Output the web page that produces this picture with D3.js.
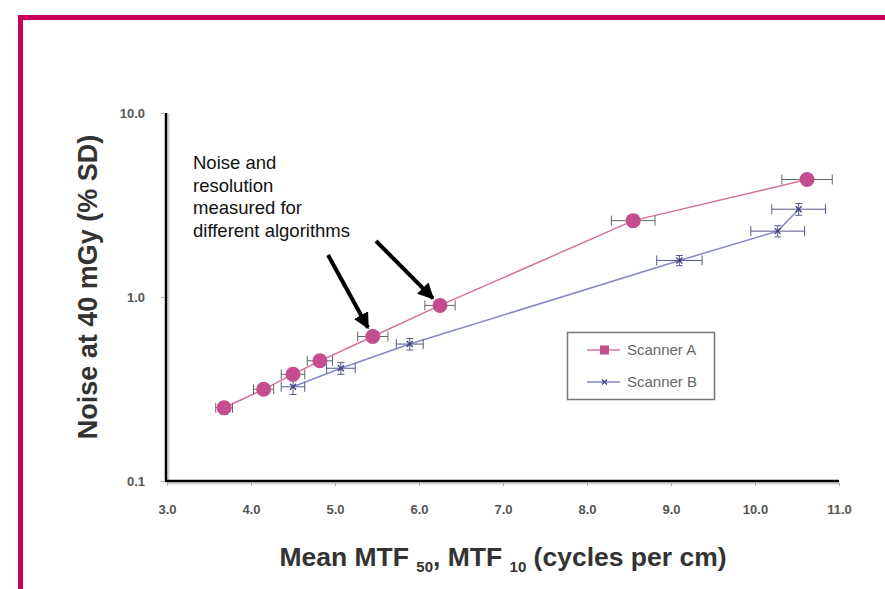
<!DOCTYPE html>
<html>
<head>
<meta charset="utf-8">
<script src="https://cdn.jsdelivr.net/npm/d3@7"></script>
<style>
  body { margin: 0; background: #fff; }
  svg { display: block; font-family: "Liberation Sans", Arial, sans-serif; }
</style>
</head>
<body>
<div id="chart"></div>
<script>
// data
var xTicks = [3, 4, 5, 6, 7, 8, 9, 10, 11];
var yTicks = [0.1, 1, 10];

var scannerA_x    = [3.68, 4.15, 4.50, 4.82, 5.45, 6.25, 8.55, 10.62];
var scannerA_y    = [0.25, 0.315, 0.38, 0.45, 0.61, 0.90, 2.60, 4.35];
var scannerA_xErr = [0.10, 0.12, 0.14, 0.15, 0.18, 0.18, 0.26, 0.30];
var scannerA_yErr = [0.02, 0.02, 0.03, 0.03, 0.04, 0.06, 0.20, 0.30];

var scannerB_x    = [4.50, 5.07, 5.89, 9.10, 10.27, 10.52];
var scannerB_y    = [0.325, 0.41, 0.555, 1.58, 2.28, 3.00];
var scannerB_xErr = [0.14, 0.17, 0.16, 0.27, 0.32, 0.32];
var scannerB_yErr = [0.03, 0.03, 0.04, 0.10, 0.16, 0.22];

var seriesNames = ["Scanner A", "Scanner B"];
var noteLines = ["Noise and", "resolution", "measured for", "different algorithms"];

function drawChart()
{
	var width = 885, height = 589;
	var svg = d3.select("#chart").append("svg")
		.attr("width", width)
		.attr("height", height);

	// magenta frame running off the right and bottom edges
	svg.append("rect")
		.attr("x", 20.5).attr("y", 17.5)
		.attr("width", 900).attr("height", 620)
		.attr("fill", "none")
		.attr("stroke", "#c8005a")
		.attr("stroke-width", 5);

	var xScale = d3.scaleLinear().domain([3, 11]).range([167, 839]);
	var yScale = d3.scaleLog().domain([0.1, 10]).range([481, 113]);

	var colA = "#c44d8e", lineA = "#d6709f";
	var colB = "#3d3f7a", lineB = "#8488c4";

	// axis shadows
	svg.append("line").attr("x1", 168.5).attr("x2", 168.5).attr("y1", 114).attr("y2", 483)
		.attr("stroke", "#d4d4d4").attr("stroke-width", 2);
	svg.append("line").attr("x1", 168).attr("x2", 840).attr("y1", 483.5).attr("y2", 483.5)
		.attr("stroke", "#d4d4d4").attr("stroke-width", 2);

	// axes
	var xAxis = d3.axisBottom(xScale).tickValues(xTicks).tickSize(5).tickPadding(19)
		.tickFormat(d3.format(".1f"));
	var gx = svg.append("g").attr("transform", "translate(0,481)").call(xAxis);
	gx.select(".domain").attr("stroke", "#000").attr("stroke-width", 2.5)
		.attr("d", "M166,0H839");
	gx.selectAll(".tick line").attr("stroke", "#aaa").attr("y1", 2);
	gx.selectAll(".tick text").attr("fill", "#555").style("font-size", "13px")
		.style("font-weight", "bold");

	var yAxis = d3.axisLeft(yScale).tickValues(yTicks).tickSize(5).tickPadding(16)
		.tickFormat(d3.format(".1f"));
	var gy = svg.append("g").attr("transform", "translate(166,0)").call(yAxis);
	gy.select(".domain").attr("stroke", "#000").attr("stroke-width", 2.5)
		.attr("d", "M0,113V482");
	gy.selectAll(".tick line").attr("stroke", "#aaa").attr("x1", -2);
	gy.selectAll(".tick text").attr("fill", "#555").style("font-size", "13px")
		.style("font-weight", "bold");

	// axis titles
	svg.append("text")
		.attr("transform", "translate(97,287)rotate(-90)")
		.attr("text-anchor", "middle")
		.attr("fill", "#333")
		.style("font-size", "27px").style("font-weight", "bold")
		.text("Noise at 40 mGy (% SD)");

	var xt = svg.append("text")
		.attr("x", 503).attr("y", 566)
		.attr("text-anchor", "middle")
		.attr("fill", "#333")
		.style("font-size", "26.5px").style("font-weight", "bold");
	xt.append("tspan").text("Mean MTF ");
	xt.append("tspan").attr("dy", 6).style("font-size", "15px").text("50");
	xt.append("tspan").attr("dy", -6).text(", MTF ");
	xt.append("tspan").attr("dy", 6).style("font-size", "15px").text("10");
	xt.append("tspan").attr("dy", -6).text(" (cycles per cm)");

	function makeData(xs, ys, xe, ye) {
		return xs.map(function(d, i) { return { x: d, y: ys[i], xe: xe[i], ye: ye[i] }; });
	}
	var dataA = makeData(scannerA_x, scannerA_y, scannerA_xErr, scannerA_yErr);
	var dataB = makeData(scannerB_x, scannerB_y, scannerB_xErr, scannerB_yErr);

	var line = d3.line()
		.x(function(d) { return xScale(d.x); })
		.y(function(d) { return yScale(d.y); });

	function drawErrors(data, color) {
		var g = svg.append("g").attr("stroke", color).attr("stroke-width", 1).attr("fill", "none");
		data.forEach(function(d) {
			var cx = xScale(d.x), cy = yScale(d.y);
			var x0 = xScale(d.x - d.xe), x1 = xScale(d.x + d.xe);
			var y0 = yScale(d.y - d.ye), y1 = yScale(d.y + d.ye);
			g.append("path").attr("d",
				"M" + x0 + "," + cy + "H" + x1 +
				"M" + x0 + "," + (cy - 5) + "V" + (cy + 5) +
				"M" + x1 + "," + (cy - 5) + "V" + (cy + 5) +
				"M" + cx + "," + y0 + "V" + y1 +
				"M" + (cx - 3.5) + "," + y0 + "H" + (cx + 3.5) +
				"M" + (cx - 3.5) + "," + y1 + "H" + (cx + 3.5));
		});
	}

	// scanner B
	svg.append("path").datum(dataB).attr("d", line)
		.attr("fill", "none").attr("stroke", lineB).attr("stroke-width", 1.5);
	drawErrors(dataB, "#555a88");
	svg.selectAll(".markB").data(dataB).enter().append("path")
		.attr("class", "markB")
		.attr("transform", function(d) { return "translate(" + xScale(d.x) + "," + yScale(d.y) + ")"; })
		.attr("d", "M-3,-3L3,3M-3,3L3,-3")
		.attr("stroke", colB).attr("stroke-width", 1.3);

	// scanner A
	svg.append("path").datum(dataA).attr("d", line)
		.attr("fill", "none").attr("stroke", lineA).attr("stroke-width", 1.5);
	drawErrors(dataA, "#666");
	svg.selectAll(".markA").data(dataA).enter().append("circle")
		.attr("class", "markA")
		.attr("cx", function(d) { return xScale(d.x); })
		.attr("cy", function(d) { return yScale(d.y); })
		.attr("r", 7.5)
		.attr("fill", colA);

	// annotation
	var note = svg.append("text")
		.attr("x", 193).attr("y", 169)
		.attr("fill", "#111")
		.style("font-size", "18.5px");
	note.selectAll("tspan").data(noteLines).enter().append("tspan")
		.attr("x", 193)
		.attr("dy", function(d, i) { return i == 0 ? 0 : 22.7; })
		.text(function(d) { return d; });

	svg.append("defs").append("marker")
		.attr("id", "head")
		.attr("viewBox", "0 0 10 10")
		.attr("refX", 9).attr("refY", 5)
		.attr("markerWidth", 4).attr("markerHeight", 4)
		.attr("markerUnits", "strokeWidth")
		.attr("orient", "auto")
		.append("path").attr("d", "M0,0L10,5L0,10Z").attr("fill", "#000");

	// arrows pointing at scanner A points (6.25 and 5.45)
	var arrows = [
		{ from: [376, 241], to: dataA[5] },
		{ from: [328, 255], to: dataA[4] }
	];
	arrows.forEach(function(a) {
		var tx = xScale(a.to.x), ty = yScale(a.to.y);
		var dx = tx - a.from[0], dy = ty - a.from[1];
		var len = Math.sqrt(dx * dx + dy * dy);
		var stop = len - 10;
		svg.append("line")
			.attr("x1", a.from[0]).attr("y1", a.from[1])
			.attr("x2", a.from[0] + dx * stop / len).attr("y2", a.from[1] + dy * stop / len)
			.attr("stroke", "#000").attr("stroke-width", 4)
			.attr("marker-end", "url(#head)");
	});

	// legend
	var lg = svg.append("g");
	lg.append("rect")
		.attr("x", 567.5).attr("y", 332.5).attr("width", 147).attr("height", 67)
		.attr("fill", "#fff").attr("stroke", "#777").attr("stroke-width", 1.5);
	var items = lg.selectAll(".item").data(seriesNames).enter().append("g")
		.attr("transform", function(d, i) { return "translate(587," + (350 + i * 32) + ")"; });
	items.append("line").attr("x1", 0).attr("x2", 33)
		.attr("stroke", function(d, i) { return i == 0 ? lineA : lineB; })
		.attr("stroke-width", 1.5);
	items.filter(function(d, i) { return i == 0; }).append("rect")
		.attr("x", 13).attr("y", -4.5).attr("width", 9).attr("height", 9).attr("fill", colA);
	items.filter(function(d, i) { return i == 1; }).append("path")
		.attr("d", "M15,-2.5L20,2.5M15,2.5L20,-2.5").attr("stroke", colB).attr("stroke-width", 1.2);
	items.append("text").attr("x", 40).attr("dy", "0.35em")
		.attr("fill", "#666").style("font-size", "15px")
		.text(function(d) { return d; });
}

drawChart();
</script>
</body>
</html>
